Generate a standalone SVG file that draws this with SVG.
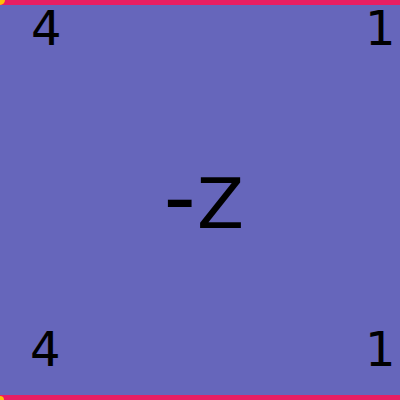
<svg xmlns="http://www.w3.org/2000/svg" width="400" height="400" viewBox="0 0 400 400">
<style>
.t{font-family:"DejaVu Sans",sans-serif;fill:#000}
.n{font-size:48px}
.bar{fill:#E91E63}
.dot{fill:#FFC107}
</style>
<rect x="0" y="0" width="400" height="400" fill="#6666BB"/>
<rect class="bar" x="0" y="0" width="400" height="5"/>
<rect class="bar" x="0" y="395" width="400" height="5"/>
<circle class="dot" cx="0" cy="0" r="5"/>
<circle class="dot" cx="0" cy="400" r="4"/>
<text class="t n" x="31" y="45">4</text>
<text class="t n" x="365" y="45">1</text>
<text class="t n" x="30" y="366">4</text>
<text class="t n" x="365" y="366">1</text>
<text class="t" y="228"><tspan x="163.5" font-size="90">-</tspan><tspan x="197" font-size="68.6">Z</tspan></text>
</svg>
